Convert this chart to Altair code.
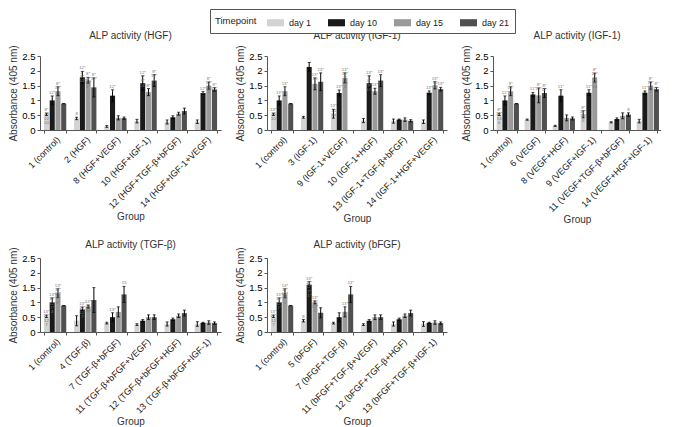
import altair as alt
import pandas as pd

FONT = "Liberation Sans"
timepoints = ["day 1", "day 10", "day 15", "day 21"]
colors = ["#d3d3d3", "#1a1a1a", "#9a9a9a", "#505050"]

# ---------- Panel 1: HGF ----------
hgf_groups = ["1 (control)", "2 (HGF)", "8 (HGF+VEGF)", "10 (HGF+IGF-1)",
              "12 (HGF+TGF-β+bFGF)", "14 (HGF+IGF-1+VEGF)"]
hgf_mean = [[0.53, 0.39, 0.12, 0.30, 0.27, 0.28],
            [1.00, 1.78, 1.16, 1.58, 0.43, 1.25],
            [1.31, 1.68, 0.41, 1.28, 0.55, 1.50],
            [0.89, 1.44, 0.40, 1.67, 0.64, 1.37]]
hgf_err = [[0.04, 0.04, 0.03, 0.06, 0.07, 0.06],
           [0.15, 0.20, 0.20, 0.25, 0.05, 0.05],
           [0.15, 0.10, 0.07, 0.12, 0.05, 0.12],
           [0.0, 0.32, 0.04, 0.20, 0.10, 0.06]]
hgf_notes = [["8*|14|12|10", "8", "", "", "", ""],
             ["12*", "12*|1*|8*|14*", "12*|1", "12*|1*|8*|14*", "", "12*|1"],
             ["8*|12*", "8*|12*|10*|1*", "", "8*", "", "8*|12*|10|1"],
             ["", "8*|12*", "", "8*|12*|1", "", "8*|12*"]]

# ---------- Panel 2: IGF-1 ----------
igf_groups = ["1 (control)", "3 (IGF-1)", "9 (IGF-1+VEGF)", "10 (IGF-1+HGF)",
              "13 (IGF-1+TGF-β+bFGF)", "14 (IGF-1+HGF+VEGF)"]
igf_mean = [[0.53, 0.43, 0.55, 0.32, 0.30, 0.28],
            [1.00, 2.13, 1.25, 1.58, 0.35, 1.26],
            [1.31, 1.56, 1.76, 1.31, 0.35, 1.51],
            [0.89, 1.63, None, 1.67, 0.31, 1.38]]
igf_err = [[0.04, 0.03, 0.15, 0.07, 0.07, 0.06],
           [0.15, 0.15, 0.10, 0.25, 0.02, 0.06],
           [0.15, 0.20, 0.17, 0.10, 0.06, 0.12],
           [0.0, 0.30, None, 0.20, 0.04, 0.06]]
igf_notes = [["13*|14|10", "", "13*|14|10", "", "", ""],
             ["13*", "", "13*|1", "13*|1*|8*|9*|14*", "", "13*|1"],
             ["13*", "13*|10|1", "13*|10*|1*|14|3", "13*", "", "13*|10|1"],
             ["", "13*", "", "13*|1", "", "13*"]]

# ---------- Panel 3: VEGF (titled IGF-1 in the original) ----------
vegf_groups = ["1 (control)", "6 (VEGF)", "8 (VEGF+HGF)", "9 (VEGF+IGF-1)",
               "11 (VEGF+TGF-β+bFGF)", "14 (VEGF+HGF+IGF-1)"]
vegf_mean = [[0.53, 0.35, 0.14, 0.53, 0.26, 0.30],
             [1.00, 1.20, 1.16, 1.26, 0.37, 1.26],
             [1.31, 1.17, 0.41, 1.77, 0.48, 1.50],
             [0.89, 1.25, 0.39, None, 0.52, 1.38]]
vegf_err = [[0.04, 0.02, 0.02, 0.12, 0.02, 0.06],
            [0.15, 0.07, 0.20, 0.10, 0.04, 0.06],
            [0.15, 0.25, 0.10, 0.15, 0.10, 0.12],
            [0.0, 0.15, 0.05, None, 0.06, 0.06]]
vegf_notes = [["8*|11*|14|6", "", "", "8*|11*|14|6", "", ""],
              ["11*", "11*", "11*|1", "11*|1", "", "11*|1"],
              ["8*|11*", "8*|11*", "", "8*|11*|6*|1*|14", "", "8*|11*|6|1"],
              ["", "8*|11*", "", "", "8", "8*|11*"]]

# ---------- Panel 4: TGF-β ----------
tgf_groups = ["1 (control)", "4 (TGF-β)", "7 (TGF-β+bFGF)", "11 (TGF-β+bFGF+VEGF)",
              "12 (TGF-β+bFGF+HGF)", "13 (TGF-β+bFGF+IGF-1)"]
tgf_mean = [[0.53, 0.38, 0.30, 0.25, 0.27, 0.27],
            [1.00, 0.76, 0.50, 0.38, 0.43, 0.31],
            [1.31, 0.86, 0.68, 0.50, 0.55, 0.32],
            [0.89, 1.08, 1.27, 0.50, 0.64, 0.30]]
tgf_err = [[0.04, 0.17, 0.03, 0.03, 0.07, 0.08],
           [0.15, 0.08, 0.15, 0.04, 0.04, 0.02],
           [0.15, 0.05, 0.17, 0.08, 0.06, 0.06],
           [0.0, 0.42, 0.27, 0.08, 0.10, 0.04]]
tgf_notes = [["13*|11*|12|7", "", "", "", "", ""],
             ["13*|11*|12*|7*|4", "13*|11*|12*|7", "13*", "", "", ""],
             ["13*|11*|13*|7*|4*", "13*|11|12", "", "", "", ""],
             ["", "", "13", "", "", ""]]

# ---------- Panel 5: bFGF ----------
bfgf_groups = ["1 (control)", "5 (bFGF)", "7 (bFGF+TGF-β)", "11 (bFGF+TGF-β+VEGF)",
               "12 (bFGF+TGF-β+HGF)", "13 (bFGF+TGF-β+IGF-1)"]
bfgf_mean = [[0.53, 0.38, 0.30, 0.25, 0.27, 0.27],
             [1.00, 1.60, 0.50, 0.38, 0.43, 0.31],
             [1.31, 1.00, 0.68, 0.50, 0.55, 0.32],
             [0.89, 0.65, 1.27, 0.50, 0.64, 0.30]]
bfgf_err = [[0.04, 0.04, 0.03, 0.03, 0.07, 0.08],
            [0.15, 0.10, 0.15, 0.04, 0.04, 0.02],
            [0.15, 0.05, 0.17, 0.08, 0.06, 0.06],
            [0.0, 0.17, 0.27, 0.08, 0.10, 0.04]]
bfgf_notes = [["13*|11*|12|7", "8", "", "", "", ""],
              ["13*|11*|12*|7*", "13*|11*|12*|7*|1*", "", "", "", ""],
              ["13*|11*|12*|7*|5", "13*|11*|12*|1", "13*", "", "", ""],
              ["", "", "13*", "", "", ""]]

y_scale = alt.Scale(domain=[0, 2.5], nice=False, zero=True)


def panel(title, groups, mean, err, notes, w, h=74, toff=4):
    rows = []
    for ti, tp in enumerate(timepoints):
        for gi, g in enumerate(groups):
            v = mean[ti][gi]
            if v is None:
                continue
            e = err[ti][gi]
            rows.append(dict(group=g, tp=tp, v=v, lo=v - e, hi=v + e,
                             note=notes[ti][gi]))
    df = pd.DataFrame(rows)
    base = alt.Chart(df).encode(
        x=alt.X("group:N", sort=groups, title="Group",
                scale=alt.Scale(paddingInner=0.26, paddingOuter=0.13),
                axis=alt.Axis(labelAngle=-45, tickBand="extent", labelFontSize=9,
                              labelPadding=2, tickSize=3, titlePadding=1)),
        xOffset=alt.XOffset("tp:N", sort=timepoints,
                            scale=alt.Scale(paddingInner=0.12)),
    )
    bars = base.mark_bar().encode(
        y=alt.Y("v:Q", scale=y_scale, title="Absorbance (405 nm)",
                axis=alt.Axis(tickCount=5, labelExpr="'' + datum.value",
                              labelOverlap=False, labelFontSize=9.5,
                              labelColor="black", tickSize=3, labelPadding=2,
                              titlePadding=3)),
        color=alt.Color("tp:N", scale=alt.Scale(domain=timepoints, range=colors),
                        legend=alt.Legend(
                            orient="none", legendX=170, legendY=-47,
                            direction="horizontal", title="Timepoint",
                            titleOrient="left", titleAnchor="middle",
                            titlePadding=10, labelOffset=5,
                            columnPadding=16,
                            symbolType="M-1,-0.42L1,-0.42L1,0.42L-1,0.42Z",
                            symbolSize=289, symbolStrokeWidth=0,
                            strokeColor="#555", fillColor="white", padding=5)),
    )
    rules = base.mark_rule(color="black", strokeWidth=1).encode(
        y=alt.Y("lo:Q", scale=y_scale, axis=None), y2="hi:Q")
    cap_hi = base.mark_tick(color="black", thickness=1, size=3).encode(
        y=alt.Y("hi:Q", scale=y_scale, axis=None))
    cap_lo = base.mark_tick(color="black", thickness=1, size=3).encode(
        y=alt.Y("lo:Q", scale=y_scale, axis=None))
    text = base.mark_text(font=FONT, fontSize=4.3, baseline="bottom", dy=-1,
                          lineBreak="|", lineHeight=4.3, color="#777").encode(
        y=alt.Y("hi:Q", scale=y_scale, axis=None), text="note:N")
    return alt.layer(bars, rules, cap_hi, cap_lo, text).resolve_axis(
        y="independent"
    ).properties(
        title=alt.TitleParams(title, offset=toff),
        width=w, height=h)


p1 = panel("ALP activity (HGF)", hgf_groups, hgf_mean, hgf_err, hgf_notes, 181)
p2 = panel("ALP activity (IGF-1)", igf_groups, igf_mean, igf_err, igf_notes, 180)
p3 = panel("ALP activity (IGF-1)", vegf_groups, vegf_mean, vegf_err, vegf_notes, 168)
p4 = panel("ALP activity (TGF-β)", tgf_groups, tgf_mean, tgf_err, tgf_notes, 181, toff=-3)
p5 = panel("ALP activity (bFGF)", bfgf_groups, bfgf_mean, bfgf_err, bfgf_notes, 180, toff=-3)

row1 = alt.hconcat(p1, p2, p3, spacing=14)
row2 = alt.hconcat(p4, p5, spacing=14)

chart = alt.vconcat(row1, row2, spacing=14).properties(
    padding=0
).configure_view(strokeWidth=0).configure_axis(
    labelFont=FONT, titleFont=FONT, labelFontSize=9, titleFontSize=10,
    titleFontWeight="normal", grid=False, domainColor="#555", tickColor="#555",
    labelColor="#222", titleColor="#333"
).configure_title(
    font=FONT, fontSize=10, fontWeight="normal", color="#333", anchor="middle"
).configure_legend(
    titleFont=FONT, labelFont=FONT, titleFontSize=9.5, labelFontSize=9,
    titleFontWeight="normal", titleColor="#222", labelColor="#222"
)

chart.save("out.html", embed_options={"renderer": "svg", "actions": False})
